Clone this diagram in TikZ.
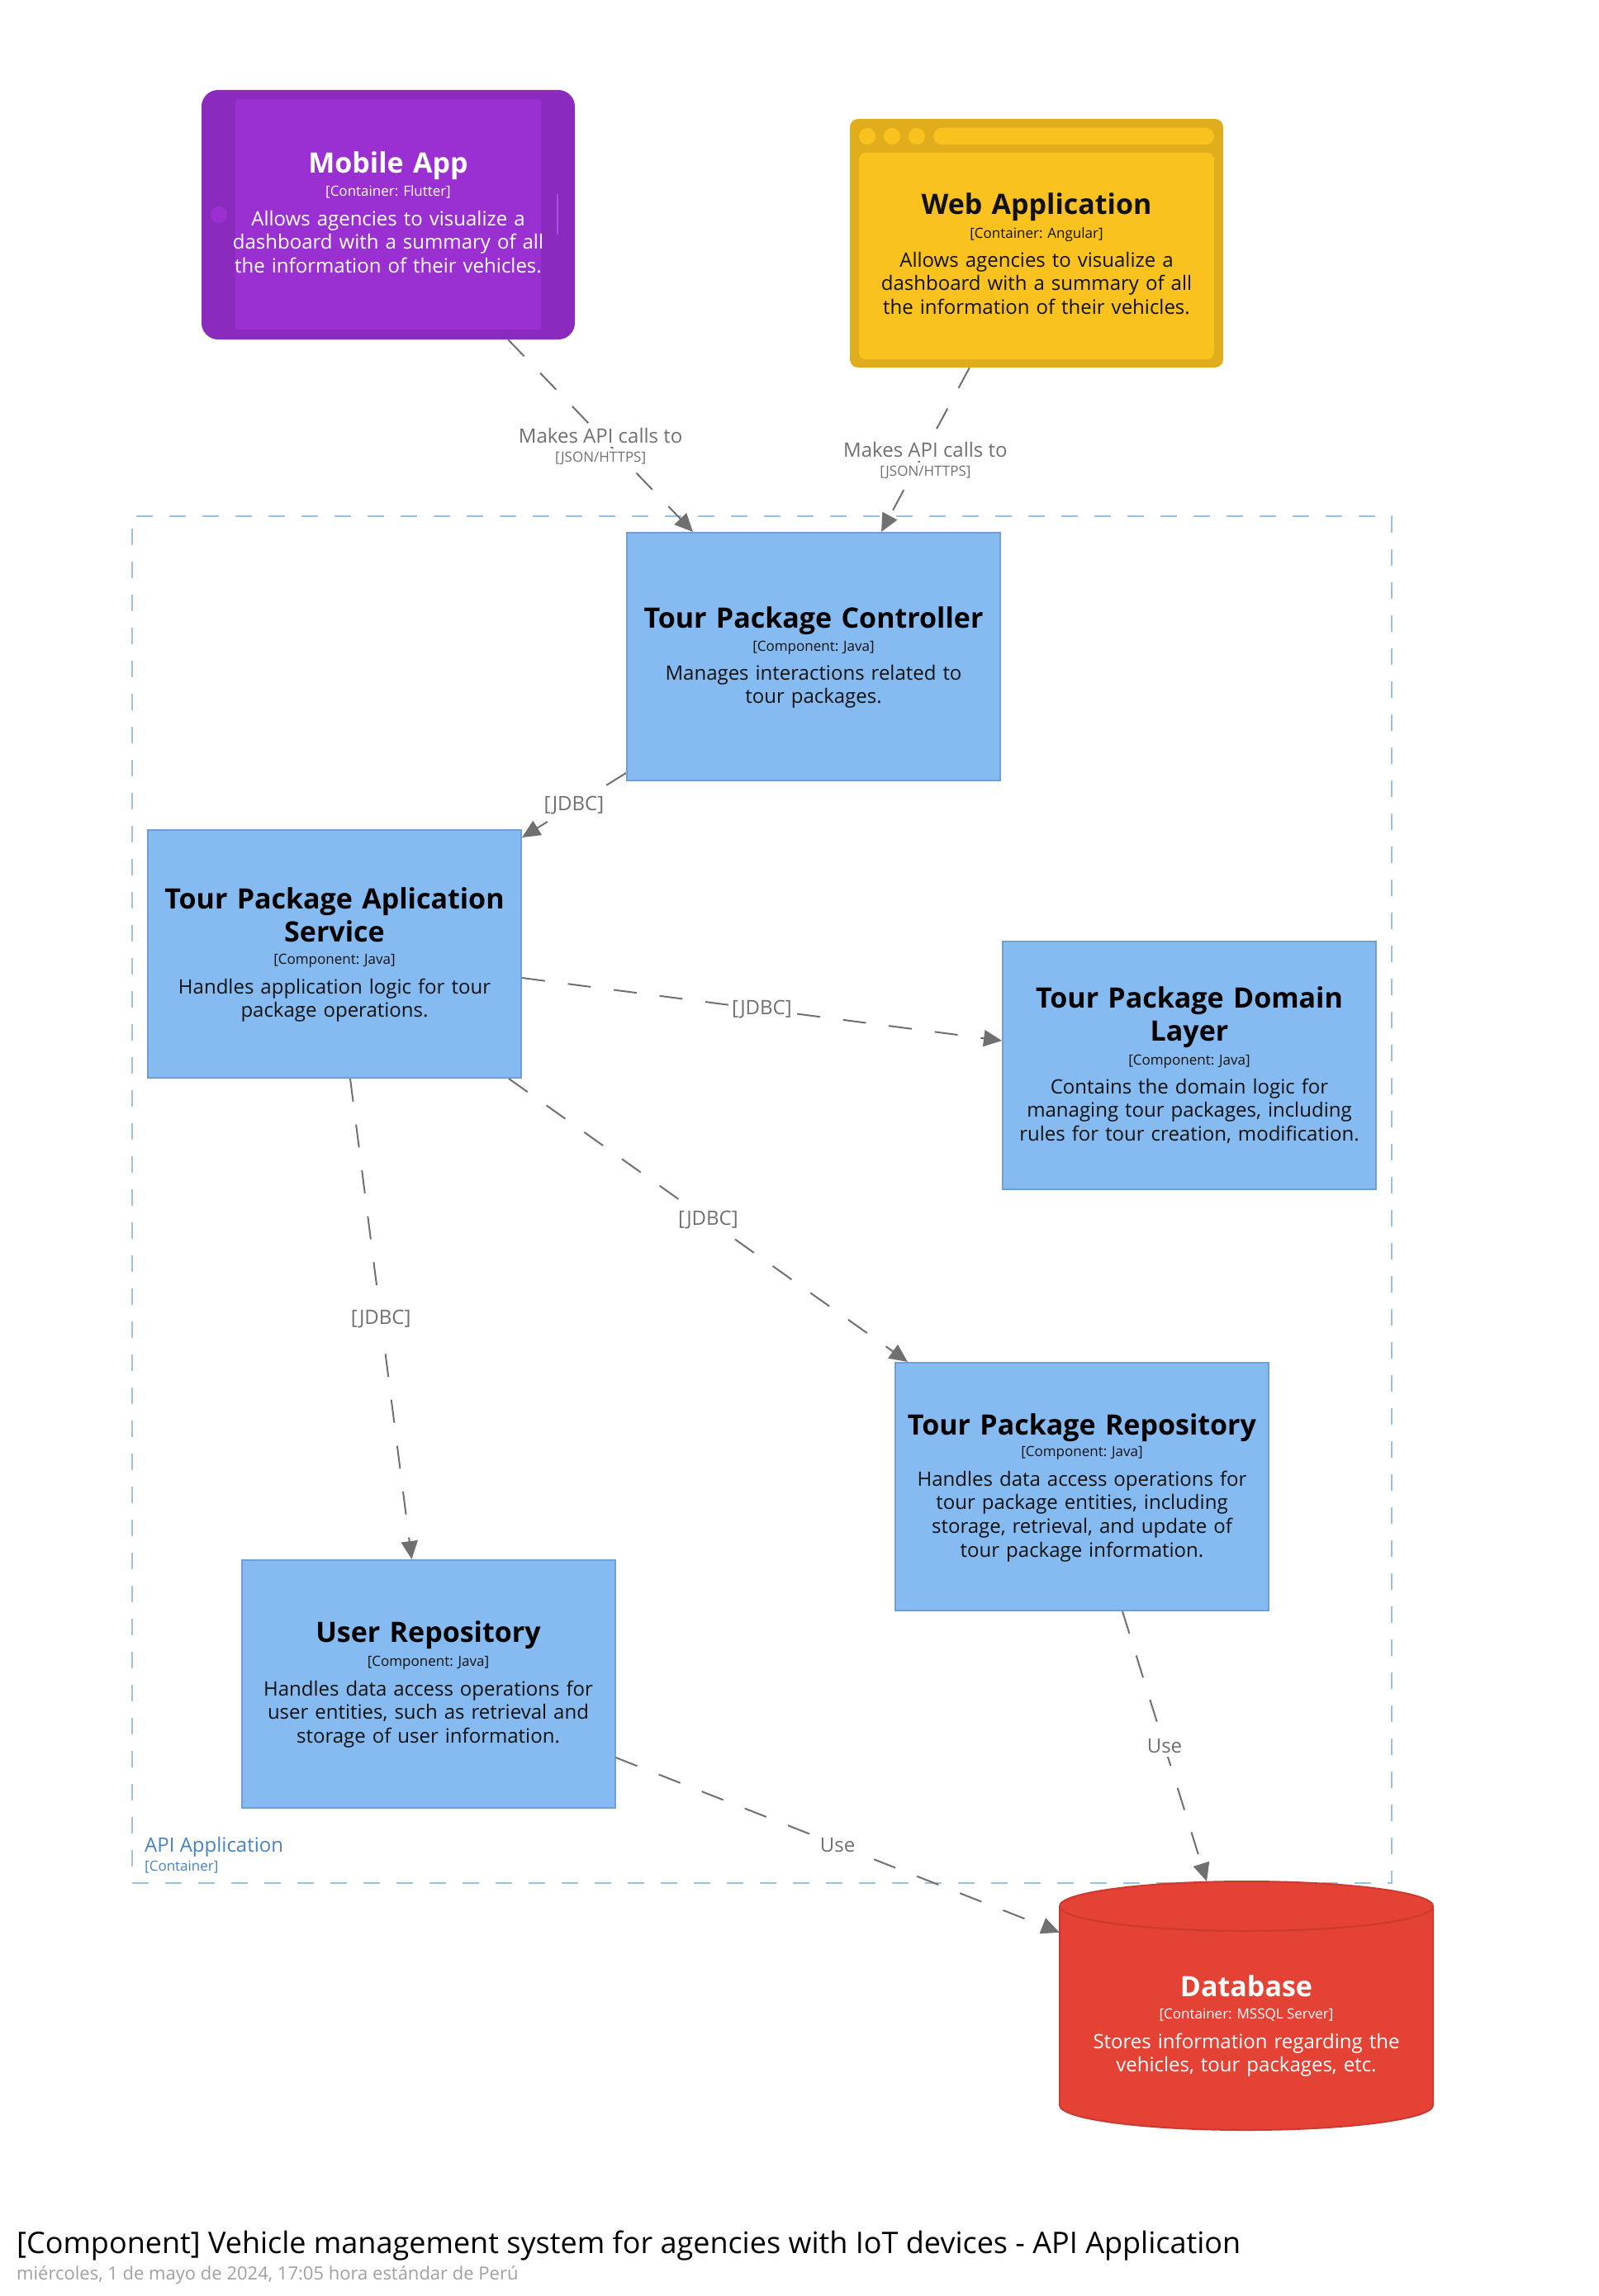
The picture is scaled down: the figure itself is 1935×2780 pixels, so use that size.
\documentclass[tikz,border=0pt]{standalone}
\usepackage{fontspec}
\setmainfont{Open Sans}
\usetikzlibrary{arrows.meta}

\definecolor{compfill}{HTML}{85BBF0}
\definecolor{compline}{HTML}{6F9FD6}
\definecolor{relgray}{HTML}{707070}
\definecolor{bndline}{HTML}{9DBFE2}
\definecolor{bndtext}{HTML}{4582C5}
\definecolor{mobout}{HTML}{8A2BBE}
\definecolor{mobin}{HTML}{9B30D2}
\definecolor{webout}{HTML}{E0AE1C}
\definecolor{webin}{HTML}{F9C21F}
\definecolor{dbfill}{HTML}{E34234}
\definecolor{dbline}{HTML}{CB3A2E}
\definecolor{subgray}{HTML}{A0A0A0}
\definecolor{darktext}{HTML}{111111}

\tikzset{
  comp/.style={rectangle, draw=compline, fill=compfill, line width=2pt,
    minimum width=452pt, minimum height=300pt, inner sep=0pt},
  nm/.style={anchor=base, font=\fontsize{34}{40}\selectfont\bfseries,
    text width=600pt, align=center, inner sep=0pt},
  meta/.style={anchor=base, font=\fontsize{17}{20}\selectfont, inner sep=0pt},
  desc/.style={anchor=base, font=\fontsize{24}{28.7}\selectfont,
    text width=600pt, align=center, inner sep=0pt},
  rel/.style={draw=relgray, line width=2pt, dash pattern=on 28pt off 28pt,
    -{Triangle[length=22pt,width=20pt]}},
  lbl/.style={text=relgray, fill=white, font=\fontsize{24}{28}\selectfont,
    inner xsep=4pt, inner ysep=4pt},
  tech/.style={text=relgray, fill=white, font=\fontsize{17}{20}\selectfont,
    inner xsep=4pt, inner ysep=4pt},
}

\begin{document}
\begin{tikzpicture}[x=1pt,y=-1pt]
\useasboundingbox (0,0) rectangle (1935,2780);

% container boundary
\node[rectangle, draw=bndline, line width=2pt, dash pattern=on 20pt off 20pt,
      minimum width=1525pt, minimum height=1655pt, inner sep=0pt] (apiapp) at (922.5,1452.5) {};
\node[anchor=base west, text=bndtext, font=\fontsize{24}{28}\selectfont, inner sep=0pt] (apiapp-name) at (175,2242) {API Application};
\node[anchor=base west, text=bndtext, font=\fontsize{17}{20}\selectfont, inner sep=0pt] (apiapp-meta) at (175,2265) {[Container]};

% mobile app (tablet)
\node[rectangle, fill=mobout, rounded corners=20pt, minimum width=452pt, minimum height=302pt, inner sep=0pt] (mobile) at (470,260) {};
\fill[mobin, rounded corners=3pt] (285,120) rectangle (655,399);
\fill[mobin] (265,260) circle[radius=10pt];
\draw[mobin!85!white, line width=2pt] (675,235) -- (675,284);
\node[nm, text=white] (mobile-name) at (470,210) {Mobile App};
\node[meta, text=white] (mobile-meta) at (470,238) {[Container: Flutter]};
\node[desc, text=white] (mobile-desc) at (470,273) {Allows agencies to visualize a\\dashboard with a summary of all\\the information of their vehicles.};

% web application (browser window)
\node[rectangle, fill=webout, rounded corners=10pt, minimum width=452pt, minimum height=301pt, inner sep=0pt] (web) at (1255,294.5) {};
\foreach \dx in {1050,1080,1110} \fill[webin] (\dx,165) circle[radius=10pt];
\fill[webin, rounded corners=10pt] (1130,155) rectangle (1470,175);
\fill[webin, rounded corners=8pt] (1040,185) rectangle (1470,435);
\node[nm, text=darktext] (web-name) at (1255,260) {Web Application};
\node[meta, text=darktext] (web-meta) at (1255,288) {[Container: Angular]};
\node[desc, text=darktext] (web-desc) at (1255,323) {Allows agencies to visualize a\\dashboard with a summary of all\\the information of their vehicles.};

% components
\node[comp] (ctrl) at (985,795) {};
\node[nm] (ctrl-name) at (985,760) {Tour Package Controller};
\node[meta, text=darktext] (ctrl-meta) at (985,788) {[Component: Java]};
\node[desc, text=darktext] (ctrl-desc) at (985,823) {Manages interactions related to\\tour packages.};

\node[comp] (app) at (405,1155) {};
\node[nm] (app-name) at (405,1100) {Tour Package Aplication\\Service};
\node[meta, text=darktext] (app-meta) at (405,1167) {[Component: Java]};
\node[desc, text=darktext] (app-desc) at (405,1203) {Handles application logic for tour\\package operations.};

\node[comp] (dom) at (1440,1290) {};
\node[nm] (dom-name) at (1440,1220) {Tour Package Domain\\Layer};
\node[meta, text=darktext] (dom-meta) at (1440,1289) {[Component: Java]};
\node[desc, text=darktext] (dom-desc) at (1440,1324) {Contains the domain logic for\\managing tour packages, including\\rules for tour creation, modification.};

\node[comp] (repo) at (1310,1800) {};
\node[nm] (repo-name) at (1310,1737) {Tour Package Repository};
\node[meta, text=darktext] (repo-meta) at (1310,1763) {[Component: Java]};
\node[desc, text=darktext] (repo-desc) at (1310,1799) {Handles data access operations for\\tour package entities, including\\storage, retrieval, and update of\\tour package information.};

\node[comp] (user) at (518.5,2039) {};
\node[nm] (user-name) at (518.5,1988) {User Repository};
\node[meta, text=darktext] (user-meta) at (518.5,2017) {[Component: Java]};
\node[desc, text=darktext] (user-desc) at (518.5,2053) {Handles data access operations for\\user entities, such as retrieval and\\storage of user information.};

% database (cylinder)
\node[rectangle, minimum width=452pt, minimum height=301pt, inner sep=0pt] (db) at (1509,2428.5) {};
\filldraw[fill=dbfill, draw=dbline, line width=2pt]
  (1283,2308) -- (1283,2549) arc[start angle=180, end angle=360, x radius=226pt, y radius=30pt]
  -- (1735,2308) arc[start angle=0, end angle=180, x radius=226pt, y radius=30pt] -- cycle;
\draw[dbline, line width=2pt] (1283,2308) arc[start angle=180, end angle=360, x radius=226pt, y radius=30pt];
\node[nm, text=white] (db-name) at (1509,2417) {Database};
\node[meta, text=white] (db-meta) at (1509,2444) {[Container: MSSQL Server]};
\node[desc, text=white] (db-desc) at (1509,2480) {Stores information regarding the\\vehicles, tour packages, etc.};

% relationships
\draw[rel] ([xshift=-81pt]mobile.south east) -- node[lbl] (r1-name) {Makes API calls to}
  node[tech, yshift=-27pt] (r1-tech) {[JSON/HTTPS]} ([xshift=81pt]ctrl.north west);
\draw[rel] ([xshift=145pt]web.south west) -- node[lbl] (r2-name) {Makes API calls to}
  node[tech, yshift=-27pt] (r2-tech) {[JSON/HTTPS]} ([xshift=-145pt]ctrl.north east);
\draw[rel] ([yshift=10pt]ctrl.south west) -- node[lbl] (r3-name) {[JDBC]} ([yshift=-10pt]app.north east);
\draw[rel] ([yshift=-29pt]app.east) -- node[lbl] (r4-name) {[JDBC]} ([yshift=30pt]dom.west);
\draw[rel] ([xshift=-16pt]app.south east) -- node[lbl] (r5-name) {[JDBC]} ([xshift=16pt]repo.north west);
\draw[rel] ([xshift=19pt]app.south) -- node[lbl] (r6-name) {[JDBC]} ([xshift=-20pt]user.north);
\draw[rel] ([xshift=49pt]repo.south) -- node[lbl] (r7-name) {Use} ([xshift=-48pt]db.north);
\draw[rel] ([yshift=-89pt]user.east) -- node[lbl] (r8-name) {Use} ([yshift=-62pt]db.north west);

% diagram title
\node[anchor=base west, font=\fontsize{36}{42}\selectfont, inner sep=0pt] (title) at (20,2728)
  {[Component] Vehicle management system for agencies with IoT devices - API Application};
\node[anchor=base west, text=subgray, font=\fontsize{22}{26}\selectfont, inner sep=0pt] (subtitle) at (20,2760)
  {miércoles, 1 de mayo de 2024, 17:05 hora estándar de Perú};
\end{tikzpicture}
\end{document}
